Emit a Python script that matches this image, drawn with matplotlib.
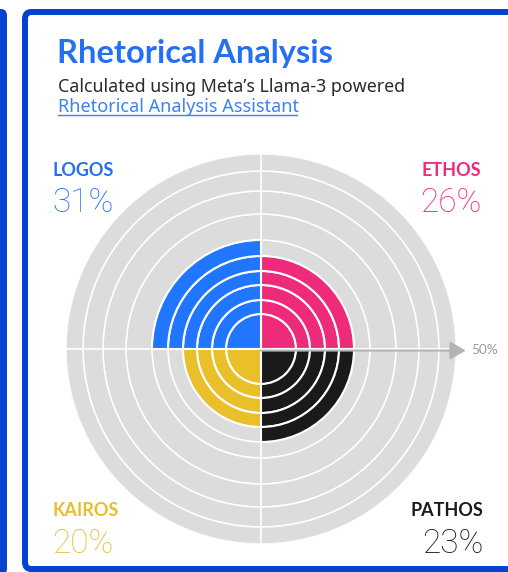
# Rhetorical analysis bullseye chart
import numpy as np
import matplotlib
matplotlib.use("Agg")
import matplotlib.pyplot as plt
from matplotlib.patches import FancyBboxPatch
from matplotlib.lines import Line2D

# data
labels = ["ETHOS", "LOGOS", "KAIROS", "PATHOS"]
shares = [26, 31, 20, 23]
colors = ["#ee2a7b", "#2176ff", "#e9bf2a", "#1a1a1a"]
label_colors = ["#ee2a7b", "#2470f0", "#e8be2d", "#1a1a1a"]

ring_step = 5          # each ring = 5 %
max_share = 50
# radius (px) of each ring boundary
ring_levels = [0, 5, 10, 15, 20, 25, 30, 35, 40, 45, 50]
ring_radius = [0, 35, 49, 64, 78, 93, 109, 135, 158, 178, 195]

W, H = 508, 572
fig = plt.figure(figsize=(W / 100, H / 100), dpi=100)
fig.patch.set_facecolor("white")

def fx(x):
    return x / W

def fy(y):
    return 1 - y / H

border = "#0343d0"
# left neighbour strip and card border
fig.patches.append(FancyBboxPatch((fx(-20), fy(575)), fx(27), fy(9) - fy(575),
                                  boxstyle="round,pad=0,rounding_size=0.012",
                                  transform=fig.transFigure, fc=border, ec="none",
                                  zorder=-2))
fig.patches.append(FancyBboxPatch((fx(25), fy(569)), fx(520), fy(12) - fy(569),
                                  boxstyle="round,pad=0,rounding_size=0.012",
                                  transform=fig.transFigure, fc="white", ec=border,
                                  lw=4.3, zorder=-2))

# polar axes
cx, cy, R = 261, 349, 195
ax = fig.add_axes([fx(cx - R), fy(cy + R), 2 * R / W, 2 * R / H], projection="polar")
ax.set_zorder(2)
fwd = lambda v: np.interp(v, ring_levels, ring_radius)
inv = lambda r: np.interp(r, ring_radius, ring_levels)
ax.set_yscale("function", functions=(fwd, inv))
ax.set_ylim(0, max_share)
ax.set_axis_off()
ax.patch.set_alpha(0)

theta = np.deg2rad([45, 135, 225, 315])
width = np.pi / 2
n_rings = max_share // ring_step
for k in range(n_rings):
    ax.bar(theta, ring_step, width=width, bottom=k * ring_step, color="#dddcdc",
           edgecolor="white", linewidth=1.1)

for t, s, c in zip(theta, shares, colors):
    n = int(round(s / ring_step))
    for k in range(n):
        ax.bar(t, ring_step, width=width, bottom=k * ring_step, color=c,
               edgecolor="white", linewidth=1.5)

# 50% arrow
ax.annotate("", xy=(1.025, 0.496), xytext=(0.5, 0.496), xycoords="axes fraction",
            arrowprops=dict(arrowstyle="-|>,head_length=0.95,head_width=0.55",
                            mutation_scale=10, color="#b4b4b4", lw=1.5,
                            shrinkA=0, shrinkB=0), annotation_clip=False)
fig.text(fx(471), fy(350), "50%", fontsize=9.8, color="#9a9a9a", va="center",
         ha="left", family="Lato")

# titles
fig.text(fx(57), fy(62.5), "Rhetorical Analysis", fontsize=23.5, weight="bold",
         color="#2470f5", family="Lato", va="baseline")
fig.text(fx(58), fy(91.5), "Calculated using Meta\u2019s Llama-3 powered", fontsize=12.8,
         color="#2a2a2a", family="Noto Sans", va="baseline")
fig.text(fx(58), fy(111.5), "Rhetorical Analysis Assistant", fontsize=13,
         color="#3b82f6", family="Noto Sans", va="baseline")
fig.lines.append(Line2D([fx(58), fx(297)], [fy(115), fy(115)], color="#3b82f6",
                        lw=1.0, transform=fig.transFigure))

# quadrant labels
pos = {"ETHOS": (481, 176, 212.5, "right"), "LOGOS": (52, 176, 212.5, "left"),
       "KAIROS": (52, 516, 553, "left"), "PATHOS": (483, 516, 553, "right")}
for lab, s, c in zip(labels, shares, label_colors):
    x, y1, y2, ha = pos[lab]
    fig.text(fx(x), fy(y1), lab, fontsize=13, weight="bold", color=c,
             family="Lato", ha=ha, va="baseline")
    fig.text(fx(x), fy(y2), f"{s}%", fontsize=24, weight="light", color=c,
             family="Roboto", ha=ha, va="baseline")

fig.savefig("out.png", dpi=100)
